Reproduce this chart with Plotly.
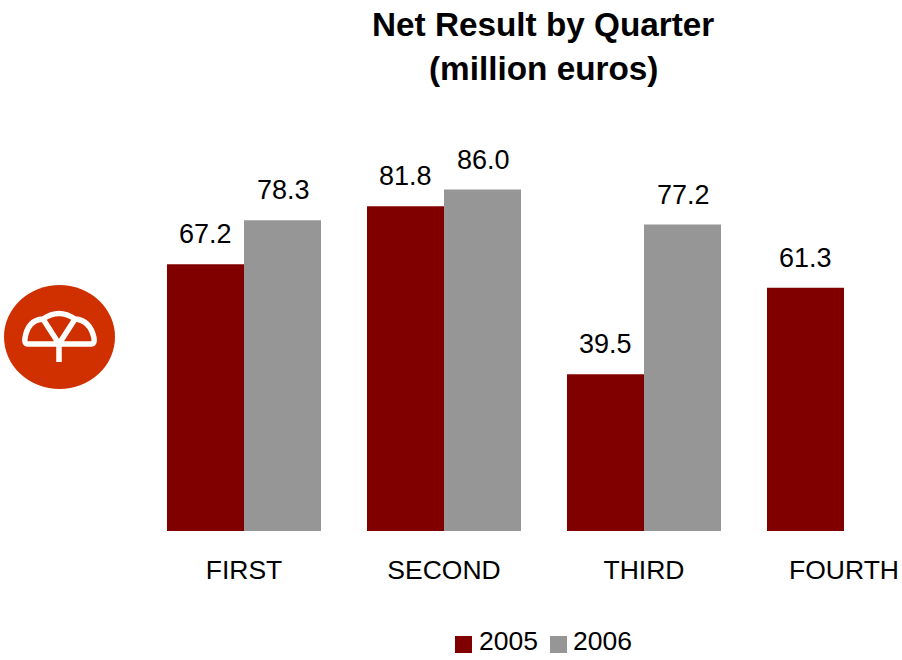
import plotly.graph_objects as go

categories = ["FIRST", "SECOND", "THIRD", "FOURTH"]
series_names = ["2005", "2006"]
values_2005 = [67.2, 81.8, 39.5, 61.3]
values_2006 = [78.3, 86.0, 77.2, None]
colors = ["#800000", "#969696"]

W, H = 902, 660
FONT = "Liberation Sans, Arial, sans-serif"

def px(x):
    return x / W

def py(y):
    return 1 - y / H

def p(x, y):
    return f"{px(x):.5f},{py(y):.5f}"

x_pos = list(range(len(categories)))
fig = go.Figure()
for name, vals, col in zip(series_names, [values_2005, values_2006], colors):
    fig.add_trace(go.Bar(x=x_pos, y=vals, name=name, marker=dict(color=col, line=dict(width=0)),
                         showlegend=False))

annotations = []
for off, vals in zip([-0.195, 0.195], [values_2005, values_2006]):
    for x, v in zip(x_pos, vals):
        if v is not None:
            annotations.append(dict(x=x + off, y=v, xref="x", yref="y", text=f"{v:.1f}", showarrow=False,
                                    yanchor="middle", yshift=30, font=dict(size=27, color="#000", family=FONT)))

# title
annotations.append(dict(x=px(543), y=py(24), xref="paper", yref="paper", text="Net Result by Quarter",
                        showarrow=False, yanchor="middle", font=dict(size=33.3, color="#000", family=FONT, weight="bold")))
annotations.append(dict(x=px(543), y=py(68), xref="paper", yref="paper", text="(million euros)",
                        showarrow=False, yanchor="middle", font=dict(size=33.3, color="#000", family=FONT, weight="bold")))

# legend
shapes = []
for name, col, sx, tx in zip(series_names, colors, [455, 550], [479, 573]):
    shapes.append(dict(type="rect", xref="paper", yref="paper", x0=px(sx), x1=px(sx + 17),
                       y0=py(636), y1=py(653), fillcolor=col, line=dict(width=0)))
    annotations.append(dict(x=px(tx), y=py(641), xref="paper", yref="paper", text=name, showarrow=False,
                            xanchor="left", yanchor="middle", xshift=-2,
                            font=dict(size=26.5, color="#000", family=FONT)))

# logo
shapes.append(dict(type="circle", xref="paper", yref="paper", x0=px(4), x1=px(115), y0=py(285), y1=py(389),
                   fillcolor="#D03000", line=dict(width=0)))
logo = (f"M {p(59,344)} L {p(28,344)} Q {p(24,344)} {p(25,338)} Q {p(28,320)} {p(43,319)} "
        f"Q {p(59,308)} {p(75,319)} Q {p(90,320)} {p(94,338)} Q {p(95,344)} {p(91,344)} L {p(59,344)} "
        f"M {p(43,319)} L {p(59,344)} L {p(75,319)} M {p(59,344)} L {p(59,362)}")
shapes.append(dict(type="path", xref="paper", yref="paper", path=logo, line=dict(color="#fff", width=5.5)))

fig.update_layout(
    width=W, height=H, autosize=False,
    margin=dict(l=0, r=0, t=0, b=0),
    paper_bgcolor="#fff", plot_bgcolor="#fff",
    barmode="group", bargap=0.23, bargroupgap=0,
    annotations=annotations, shapes=shapes,
    xaxis=dict(domain=[px(144), 1], range=[-0.5, -0.5 + (W - 144) / 200], tickmode="array", tickvals=x_pos,
               ticktext=categories, showgrid=False, zeroline=False, showline=False, ticks="",
               tickfont=dict(size=26.5, color="#000", family=FONT), ticklabelstandoff=20),
    yaxis=dict(domain=[py(531), py(100)], range=[0, 431 / 3.97], visible=False),
)
fig.write_html("out.html", config=dict(displayModeBar=False),
               post_script="document.body.style.margin='0';")
